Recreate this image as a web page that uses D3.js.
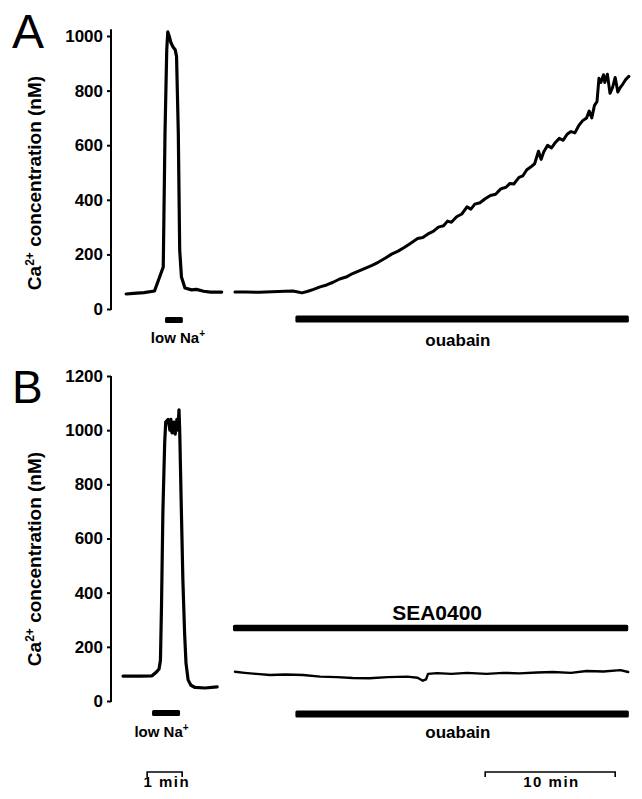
<!DOCTYPE html>
<html>
<head>
<meta charset="utf-8">
<script src="https://cdn.jsdelivr.net/npm/d3@7"></script>
<style>
  body { margin: 0; background: #fff; }
  svg { display: block; }
  text { font-family: 'Liberation Sans', Arial, sans-serif; fill: #000; }
</style>
</head>
<body>
<svg width="642" height="799"></svg>
<script>
// ---- data (time in min, Ca2+ in nM) ----
const yTicksA = [0, 200, 400, 600, 800, 1000];
const yTicksB = [0, 200, 400, 600, 800, 1000, 1200];

// panel A, low Na+ trace (left time scale)
const tA1 = [0.09, 0.3, 0.6, 0.9, 1.15, 1.2, 1.25, 1.28, 1.32, 1.37, 1.43, 1.49, 1.53, 1.58, 1.62, 1.67, 1.77, 1.96, 2.1, 2.3, 2.5, 2.82];
const vA1 = [55, 57, 60, 66, 154, 645, 950, 1015, 1000, 975, 960, 950, 925, 645, 216, 117, 77, 70, 72, 65, 62, 62];

// panel A, ouabain trace (right time scale)
const tA2 = [0.15, 1, 2, 3, 4, 4.6, 5.0, 5.3, 5.7, 6.2, 6.7, 7.2, 7.7, 8.2, 8.7, 9.2, 9.7, 10.2, 10.7, 11.2, 11.7, 12.2, 12.7, 13.2, 13.7, 14.2, 14.6, 15.0, 15.4, 15.8, 16.2, 16.5, 16.8, 17.2, 17.6, 18.0, 18.3, 18.6, 19.0, 19.4, 19.8, 20.2, 20.6, 21.0, 21.3, 21.6, 22.0, 22.3, 22.6, 22.9, 23.2, 23.5, 23.7, 23.9, 24.2, 24.5, 24.8, 25.1, 25.4, 25.7, 26.0, 26.3, 26.6, 26.9, 27.2, 27.4, 27.6, 27.8, 28.0, 28.15, 28.3, 28.5, 28.6, 28.8, 29.0, 29.2, 29.4, 29.6, 29.8, 30.0, 30.2, 30.45];
const vA2 = [62, 62, 61, 63, 65, 66, 62, 59, 64, 72, 81, 88, 98, 110, 117, 130, 140, 150, 160, 172, 186, 201, 212, 226, 242, 258, 262, 275, 284, 300, 305, 322, 318, 338, 348, 374, 366, 384, 389, 404, 416, 420, 440, 446, 460, 458, 482, 488, 510, 520, 532, 578, 548, 575, 600, 590, 610, 625, 618, 640, 650, 645, 672, 690, 700, 725, 700, 745, 760, 845, 830, 858, 830, 860, 790, 812, 848, 795, 812, 825, 840, 852];

// panel B, low Na+ trace (left time scale)
const tB1 = [0, 0.5, 0.83, 0.94, 1.03, 1.07, 1.1, 1.14, 1.19, 1.22, 1.29, 1.34, 1.37, 1.4, 1.46, 1.49, 1.54, 1.57, 1.6, 1.62, 1.66, 1.71, 1.76, 1.8, 1.86, 1.94, 2.06, 2.34, 2.69];
const vB1 = [92, 92, 93, 105, 118, 150, 350, 700, 950, 1030, 1040, 1000, 1040, 990, 1030, 985, 1040, 1000, 1075, 1000, 750, 450, 250, 140, 78, 58, 50, 48, 52];

// panel B, SEA0400 + ouabain trace (right time scale)
const tB2 = [0.15, 0.9, 1.8, 2.85, 4.0, 5.4, 6.7, 8.0, 9.2, 10.5, 11.9, 13.4, 14.2, 14.6, 14.85, 15.0, 15.7, 16.8, 18.0, 19.5, 20.8, 22.0, 23.4, 24.6, 26.0, 27.2, 28.5, 29.8, 30.4];
const vB2 = [108, 104, 100, 96, 98, 96, 90, 88, 85, 84, 88, 90, 86, 75, 80, 100, 103, 100, 104, 100, 104, 102, 105, 107, 104, 111, 109, 114, 107];

// treatment bars [start, end] in min
const lowNaA = [1.2, 1.71];
const lowNaB = [0.83, 1.63];
const ouabainBar = [4.8, 30.45];
const seaBar = [0, 30.4];
const seaLevel = 270;

// scale bars
const scaleLeft = [0.69, 1.69];
const scaleRight = [19.4, 29.4];

// ---- drawing ----
const svg = d3.select('svg');

const xLeft = d3.scaleLinear().domain([0, 3]).range([123, 228]);   // 35 px / min
const xRight = d3.scaleLinear().domain([0, 30]).range([233, 623]); // 13 px / min
const yA = d3.scaleLinear().domain([0, 1000]).range([309, 36]);
const yB = d3.scaleLinear().domain([0, 1200]).range([701, 376]);

const trace = (x, y, t, v, w) => {
    svg.append('path')
        .datum(t.map((d, i) => [d, v[i]]))
        .attr('fill', 'none')
        .attr('stroke', '#000')
        .attr('stroke-width', w)
        .attr('stroke-linejoin', 'round')
        .attr('stroke-linecap', 'round')
        .attr('d', d3.line().x(d => x(d[0])).y(d => y(d[1])));
};

const drawAxis = (y, ticks, top, titleY) => {
    const g = svg.append('g')
        .attr('transform', 'translate(111,0)')
        .call(d3.axisLeft(y).tickValues(ticks).tickFormat(d3.format('d'))
            .tickSize(4).tickSizeOuter(0).tickPadding(4));
    g.select('.domain').remove();
    g.append('line')
        .attr('y1', y(0) + 1)
        .attr('y2', y(top))
        .attr('stroke', '#000')
        .attr('stroke-width', 2);
    g.selectAll('.tick line').attr('stroke-width', 2);
    g.selectAll('.tick text')
        .attr('font-family', "'Liberation Sans', Arial, sans-serif")
        .attr('font-size', 17)
        .attr('font-weight', 'bold')
        .attr('fill', '#000');

    const title = svg.append('text')
        .attr('transform', `translate(41,${titleY}) rotate(-90)`)
        .attr('text-anchor', 'middle')
        .attr('font-size', 19)
        .attr('font-weight', 'bold');
    title.append('tspan').text('Ca');
    title.append('tspan').attr('font-size', 12).attr('dy', -7).text('2+');
    title.append('tspan').attr('dy', 7).text(' concentration (nM)');
};

const bar = (x, range, yc, h) => {
    svg.append('rect')
        .attr('x', x(range[0]))
        .attr('width', x(range[1]) - x(range[0]))
        .attr('y', yc - h / 2)
        .attr('height', h)
        .attr('rx', 1.5)
        .attr('fill', '#000');
};

const label = (txt, x, y, size) => svg.append('text')
    .attr('x', x).attr('y', y)
    .attr('text-anchor', 'middle')
    .attr('font-size', size)
    .attr('font-weight', 'bold')
    .text(txt);

const lowNaLabel = (x, y) => {
    const t = label('low Na', x, y, 15);
    t.append('tspan').attr('font-size', 10).attr('dy', -6).text('+');
};

// panel A
svg.append('text').attr('x', 12).attr('y', 48).attr('font-size', 48).text('A');
drawAxis(yA, yTicksA, 1025, 183);
trace(xLeft, yA, tA1, vA1, 3.2);
trace(xRight, yA, tA2, vA2, 3);
bar(xLeft, lowNaA, yA(0) + 11, 6);
bar(xRight, ouabainBar, yA(0) + 10, 7);
lowNaLabel(xLeft(1.57), 343);
label('ouabain', xRight(17.3), 346, 17);

// panel B
svg.append('text').attr('x', 12).attr('y', 403).attr('font-size', 46).text('B');
drawAxis(yB, yTicksB, 1200, 559);
trace(xLeft, yB, tB1, vB1, 3.2);
trace(xRight, yB, tB2, vB2, 2.4);
bar(xLeft, lowNaB, yB(0) + 12, 6);
bar(xRight, ouabainBar, yB(0) + 13, 7);
bar(xRight, seaBar, yB(seaLevel), 6.5);
lowNaLabel(xLeft(1.1), 737);
label('ouabain', xRight(17.3), 738, 17);
label('SEA0400', xRight(15.7), 620, 21);

// time scale bars
const scaleBar = (x, range) => {
    svg.append('path')
        .attr('d', `M${x(range[0])},777V772H${x(range[1])}V777`)
        .attr('fill', 'none')
        .attr('stroke', '#000')
        .attr('stroke-width', 1.6);
};
scaleBar(xLeft, scaleLeft);
scaleBar(xRight, scaleRight);
label('1 min', xLeft(1.25), 787, 15).attr('letter-spacing', 1.5);
label('10 min', xRight(24.5), 787, 15).attr('letter-spacing', 1.5);
</script>
</body>
</html>
